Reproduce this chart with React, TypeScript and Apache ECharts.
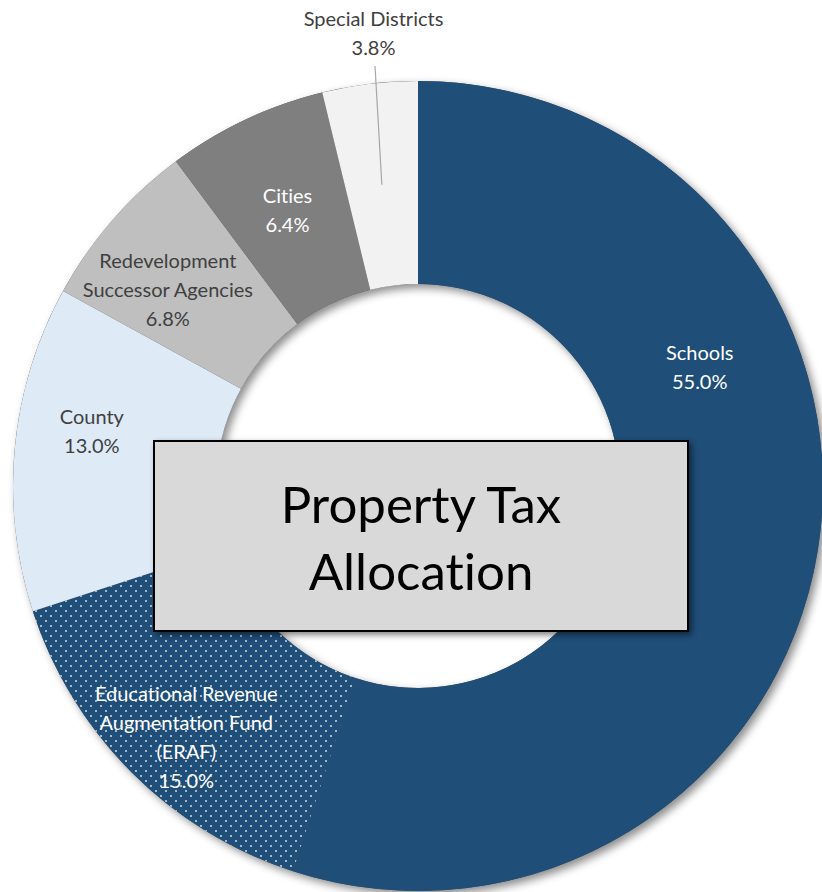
import React, { useEffect, useRef } from "react";
import * as echarts from "echarts";

const categories = [
  "Schools",
  "Educational Revenue\nAugmentation Fund\n(ERAF)",
  "County",
  "Redevelopment\nSuccessor Agencies",
  "Cities",
  "Special Districts",
];
const values = [55.0, 15.0, 13.0, 6.8, 6.4, 3.8];
const sliceColors = ["#1F4E79", "#1F4E79", "#DEEBF7", "#BFBFBF", "#7F7F7F", "#F2F2F2"];
const labelColors = ["#FFFFFF", "#FFFFFF", "#404040", "#404040", "#FFFFFF", "#404040"];
const titleLines = ["Property Tax", "Allocation"];

// layout (label nudges relative to the default inside position)
const labelOffsets: number[][] = [
  [-21, -167],
  [-15, 34],
  [-21, -27],
  [-19, 4],
  [0, 1],
  [-8, -149],
];

const CX = 418;
const CY = 486;
const R0 = 202;
const R1 = 405;
const FONT = "Lato, 'Open Sans', sans-serif";

export default function App() {
  const ref = useRef<HTMLDivElement>(null);

  useEffect(() => {
    document.body.style.margin = "0";
    const styleEl = document.createElement("style");
    styleEl.textContent =
      "text, tspan { font-variant-ligatures: none; font-feature-settings: 'liga' 0, 'clig' 0; }";
    document.head.appendChild(styleEl);

    const chart = echarts.init(ref.current!, null, { renderer: "svg" });

    const total = values.reduce((a, b) => a + b, 0);
    const before = values.slice(0, values.length - 1).reduce((a, b) => a + b, 0);
    const midFrac = (before + values[values.length - 1] / 2) / total;
    const ang = midFrac * Math.PI * 2;
    const rm = (R0 + R1) / 2;
    const sx = CX + rm * Math.sin(ang);
    const sy = CY - rm * Math.cos(ang);

    const data = categories.map((name, i) => ({
      name,
      value: values[i],
      itemStyle: {
        color: sliceColors[i],
        decal:
          i === 1
            ? {
                symbol: "rect",
                symbolSize: 1,
                color: "rgba(255,255,255,0.6)",
                dashArrayX: [
                  [1.5, 7.5],
                  [0, 4.5, 1.5, 3],
                ],
                dashArrayY: [1.5, 3],
                rotation: 0,
              }
            : undefined,
      },
      label: {
        color: labelColors[i],
        offset: labelOffsets[i],
      },
    }));

    chart.setOption({
      animation: false,
      backgroundColor: "#FFFFFF",
      series: [
        {
          type: "pie",
          center: [CX, CY],
          radius: [R0, R1],
          startAngle: 90,
          clockwise: true,
          avoidLabelOverlap: false,
          silent: true,
          z: 2,
          label: {
            show: true,
            position: "inside",
            fontFamily: FONT,
            fontSize: 20,
            lineHeight: 29,
            align: "center",
            formatter: (p: any) => `${p.name}\n${Number(p.value).toFixed(1)}%`,
          },
          labelLine: { show: false },
          itemStyle: { borderWidth: 0 },
          emphasis: { disabled: true },
          data,
        },
      ],
      graphic: [
        {
          type: "ring",
          z: -10,
          silent: true,
          shape: { cx: CX, cy: CY, r: R1, r0: R0 },
          style: {
            fill: "#555555",
            shadowBlur: 8,
            shadowOffsetX: 4,
            shadowOffsetY: 4,
            shadowColor: "rgba(0,0,0,0.45)",
          },
        },
        {
          type: "line",
          z: 50,
          silent: true,
          shape: { x1: sx, y1: sy, x2: 375, y2: 66 },
          style: { stroke: "#A6A6A6", lineWidth: 1.2 },
        },
        {
          type: "rect",
          z: 100,
          silent: true,
          shape: { x: 154, y: 441, width: 534, height: 190 },
          style: {
            fill: "#D9D9D9",
            stroke: "#000000",
            lineWidth: 2,
            shadowBlur: 6,
            shadowOffsetX: 3,
            shadowOffsetY: 3,
            shadowColor: "rgba(0,0,0,0.5)",
          },
        },
        {
          type: "text",
          z: 101,
          silent: true,
          x: 421,
          y: 537,
          style: {
            text: titleLines.join("\n"),
            fontFamily: FONT,
            fontSize: 51,
            lineHeight: 67,
            fill: "#000000",
            align: "center",
            verticalAlign: "middle",
          },
        },
      ],
    });

    return () => {
      chart.dispose();
      styleEl.remove();
    };
  }, []);

  return (
    <div
      ref={ref}
      style={{ position: "absolute", left: 0, top: 0, width: 822, height: 892 }}
    />
  );
}
